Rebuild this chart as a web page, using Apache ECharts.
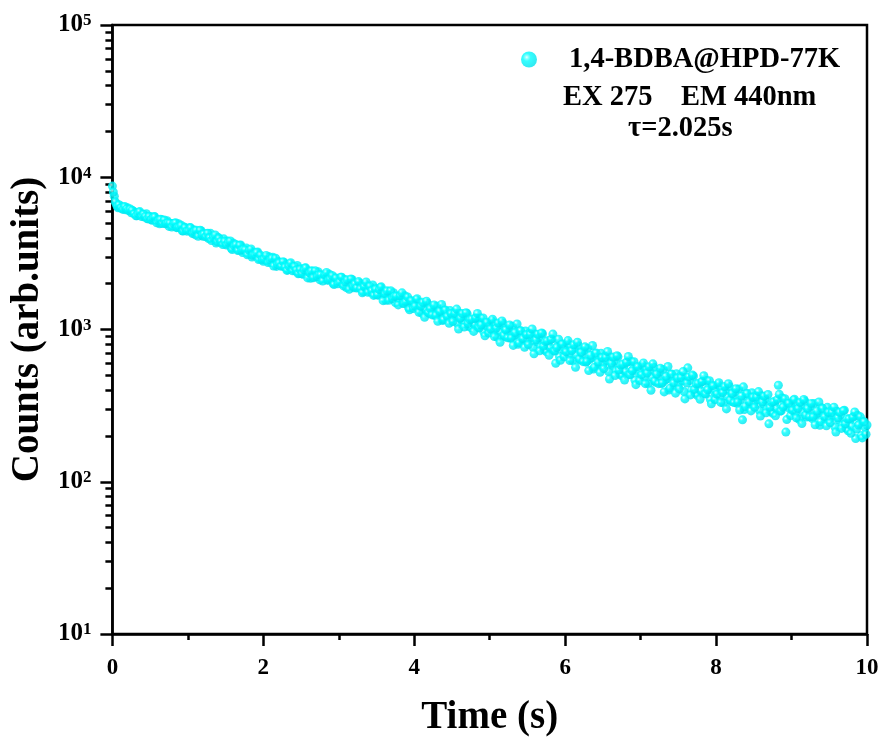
<!DOCTYPE html>
<html>
<head>
<meta charset="utf-8">
<script src="https://cdn.jsdelivr.net/npm/echarts@6/dist/echarts.min.js"></script>
<style>
html,body{margin:0;padding:0;background:#fff;}
#chart{width:884px;height:742px;}
</style>
</head>
<body>
<div id="chart"></div>
<script>
// ---- data ----
const seriesName = '1,4-BDBA@HPD-77K';
const infoLine2 = 'EX 275    EM 440nm';
const infoLine3 = 'τ=2.025s';
const xTitle = 'Time (s)';
const yTitle = 'Counts (arb.units)';
const T_STEP = 0.025;      // sampling step (s)
const T_START_A = 0;       // first sample of countsA
const T_START_B = 0.0125;  // first sample of countsB (interleaved)
const countsA = [
8750,7500,6700,6300,6500,6250,6380,6120,6300,6020,
5845,6010,5869,5590,5888,5658,5724,5475,5762,5339,
5530,5218,5533,5226,5228,4950,5277,5162,4957,5183,
4757,4961,4797,4996,4665,4955,4722,4447,4706,4549,
4552,4671,4364,4525,4180,4404,4259,4456,4099,4188,
4275,3959,4282,3972,3976,3697,4029,3915,3711,3939,
3648,3806,3677,3420,3700,3489,3551,3324,3589,3205,
3324,3426,3157,3296,2995,3187,3060,3227,2918,2993,
2804,2967,2844,3003,2751,2980,2804,2596,2800,2682,
2621,2751,2657,2462,2689,2530,2588,2416,2632,2335,
2506,2303,2537,2336,2352,2172,2415,2349,2219,2393,
2123,2264,2170,2309,2109,2306,2168,2002,2180,2090,
2106,2208,1994,2128,1885,2065,1971,2131,1879,1959,
1898,2022,1944,1776,1986,1851,1909,1761,1963,1701,
1862,1679,1886,1706,1719,1557,1771,1711,1596,1746,
1502,1631,1544,1670,1486,1665,1538,1387,1547,1465,
1477,1564,1377,1492,1280,1435,1351,1488,1271,1338,
1390,1235,1421,1268,1284,1146,1339,1291,1193,1332,
1182,1293,1229,1089,1275,1162,1216,1092,1272,1049,
1028,1143,1073,1186,1032,1190,1087,960,1104,1037,
1054,1139,970,1081,889,1037,964,1097,897,965,
1019,875,1051,910,926,799,981,937,848,978,
842,945,889,762,933,831,883,771,937,734,
717,822,761,864,725,600,778,664,796,737,
750,816,686,771,624,738,682,783,631,682,
727,610,754,638,652,550,699,664,591,698,
589,667,624,529,659,582,620,537,661,509,
496,577,531,610,507,617,548,464,564,520,
532,583,486,551,441,529,487,566,450,492,
525,441,546,464,474,400,509,485,432,512,
433,491,460,391,487,560,462,400,495,382,
370,431,396,456,379,462,410,347,423,390,
396,434,362,411,329,394,363,422,336,367,
389,328,406,345,255,298,380,363,324,384,
324,367,345,294,367,325,348,302,240,289,
282,329,304,430,291,355,316,212,326,302,
310,343,283,325,257,312,288,339,266,293,
313,260,327,275,282,235,306,290,257,308,
256,293,273,229,290,255,275,236,295,224,
216,254,232,269,192,273,241,201,248,227,236
];
const countsB = [
8000,6900,6450,6600,6280,6150,6420,6200,6060,6180,
6064,5752,5579,5792,5950,5516,5723,5525,5330,5530,
5278,5426,5497,5025,5216,5290,4968,5243,4971,5016,
4996,4708,4957,5034,4680,4709,4830,4438,4673,4425,
4474,4655,4274,4409,4489,4097,4484,4164,4241,4065,
4289,3999,3835,4034,4179,3782,3971,3790,3610,3793,
3587,3737,3811,3350,3541,3615,3303,3574,3312,3357,
3340,3093,3311,3380,3076,3105,3208,2878,3079,2869,
2913,3068,2755,2868,2938,2614,2937,2676,2742,2601,
2790,2566,2443,2613,2742,2430,2594,2457,2321,2480,
2325,2462,2540,2182,2353,2428,2189,2430,2230,2285,
2288,2083,2293,2371,2112,2152,2263,1976,2176,1998,
2054,2207,1933,2048,2124,1838,2148,1919,1994,1873,
2063,1854,1743,1917,2051,1756,1925,1799,1674,1839,
1690,1829,1907,1547,1719,1796,1557,1797,1598,1654,
1658,1451,1664,1741,1483,1523,1634,1348,1547,1373,
1424,1592,1297,1424,1508,1202,1535,1291,1373,1247,
1448,1240,1133,1318,1461,1163,1343,1220,1099,1274,
1129,1276,1361,1008,1188,1273,1039,1289,1095,1159,
1171,972,1190,1274,1023,1070,1189,909,1116,947,
1008,1167,900,1020,1102,824,1137,916,995,883,
1071,882,786,956,1088,819,983,872,764,925,
796,929,1007,692,855,931,724,949,777,835,
844,677,861,933,723,762,863,628,803,662,
714,846,625,726,793,564,824,641,708,615,
769,616,537,677,785,566,701,611,523,654,
553,656,717,473,600,659,499,672,541,585,
593,466,609,665,504,536,615,434,571,462,
505,603,441,517,569,399,595,459,509,441,
556,446,389,492,571,412,511,447,382,480,
407,484,529,350,445,490,372,502,404,439,
443,348,455,497,377,402,461,325,428,346,
377,447,332,385,422,301,440,344,380,331,
408,334,296,366,420,312,380,336,292,359,
308,360,391,270,334,365,284,374,308,332,
336,271,346,375,292,309,351,256,328,272,
295,348,263,303,332,241,347,274,303,267,
327,267,237,291,334,248,303,268,233,286,
244,285,309,212,263,286,224,293,240,259,
259,208,265,287,222,236,267,194,248,205
];
const xMin = 0, xMax = 10, xInterval = 2;
const yMajorTicks = [10, 100, 1000, 10000, 100000];
const yMajorExps = ['1', '2', '3', '4', '5'];
const yMinorTicks = [20,30,40,50,60,70,80,90,200,300,400,500,600,700,800,900,
  2000,3000,4000,5000,6000,7000,8000,9000,20000,30000,40000,50000,60000,70000,80000,90000];

// ---- chart ----
const FONT = "'Liberation Serif','Times New Roman',serif";
const points = countsA.map((c, i) => [+(T_START_A + i * T_STEP).toFixed(4), c])
  .concat(countsB.map((c, i) => [+(T_START_B + i * T_STEP).toFixed(4), c]));
const ball = {
  type: 'radial', x: 0.36, y: 0.36, r: 0.64,
  colorStops: [
    {offset: 0, color: '#e8ffff'},
    {offset: 0.16, color: '#70ffff'},
    {offset: 0.38, color: '#00ffff'},
    {offset: 1, color: '#00e4ee'}
  ]
};
const chart = echarts.init(document.getElementById('chart'), null, {renderer: 'canvas'});
chart.setOption({
  backgroundColor: '#fff',
  animation: false,
  textStyle: {fontFamily: FONT},
  grid: {left: 112, right: 17, top: 25, bottom: 108, show: true,
    borderColor: '#000', borderWidth: 2.5, backgroundColor: 'transparent'},
  legend: {
    left: 521, top: 45, padding: 0,
    itemWidth: 16, itemHeight: 16,
    data: [{name: seriesName, icon: 'circle'}],
    textStyle: {fontFamily: FONT, fontWeight: 'bold', fontSize: 28.5, color: '#000',
      padding: [0, 0, 0, 27]}
  },
  graphic: [
    {type: 'text', left: 563, top: 83,
      style: {text: infoLine2, font: "bold 28.5px 'Liberation Serif','Times New Roman',serif",
        fill: '#000', whiteSpace: 'pre'}},
    {type: 'text', left: 628, top: 114,
      style: {text: infoLine3, font: "bold 28.5px 'Liberation Serif','Times New Roman',serif",
        fill: '#000'}}
  ],
  xAxis: {
    type: 'value', min: xMin, max: xMax, interval: xInterval,
    name: xTitle, nameLocation: 'middle', nameGap: 64,
    nameTextStyle: {fontFamily: FONT, fontWeight: 'bold', fontSize: 39, color: '#000'},
    axisLine: {show: true, lineStyle: {color: '#000', width: 2.5}},
    axisTick: {show: true, inside: false, length: 12, lineStyle: {color: '#000', width: 2.5}},
    minorTick: {show: true, splitNumber: 2, length: 6, lineStyle: {color: '#000', width: 2.5}},
    axisLabel: {fontFamily: FONT, fontWeight: 'bold', fontSize: 23, color: '#000', margin: 23},
    splitLine: {show: false}, minorSplitLine: {show: false}
  },
  yAxis: [{
    type: 'log', logBase: 10, min: 10, max: 100000,
    name: yTitle, nameLocation: 'middle', nameGap: 62, nameRotate: 90,
    nameTextStyle: {fontFamily: FONT, fontWeight: 'bold', fontSize: 39, color: '#000'},
    axisLine: {show: true, lineStyle: {color: '#000', width: 2.5}},
    axisTick: {show: true, inside: false, length: 12, lineStyle: {color: '#000', width: 2.5},
      customValues: yMajorTicks},
    axisLabel: {
      margin: 21,
      customValues: yMajorTicks,
      formatter: function (v) {
        const idx = yMajorTicks.indexOf(Math.round(v));
        return '{a|10}{b|' + (idx >= 0 ? yMajorExps[idx] : '') + '}';
      },
      rich: {
        a: {fontFamily: FONT, fontWeight: 'bold', fontSize: 25, color: '#000', lineHeight: 25},
        b: {fontFamily: FONT, fontWeight: 'bold', fontSize: 17, color: '#000', verticalAlign: 'top', lineHeight: 17}
      }
    },
    splitLine: {show: false}
  }, {
    type: 'log', logBase: 10, min: 10, max: 100000, position: 'left', offset: 0,
    axisLine: {show: false},
    axisTick: {show: true, inside: false, length: 7, lineStyle: {color: '#000', width: 2.5},
      customValues: yMinorTicks},
    axisLabel: {show: false},
    splitLine: {show: false}
  }],
  series: [{
    name: seriesName,
    type: 'scatter',
    symbol: 'circle',
    symbolSize: 9,
    data: points,
    itemStyle: {color: ball},
    emphasis: {disabled: true}
  }]
});
</script>
</body>
</html>
